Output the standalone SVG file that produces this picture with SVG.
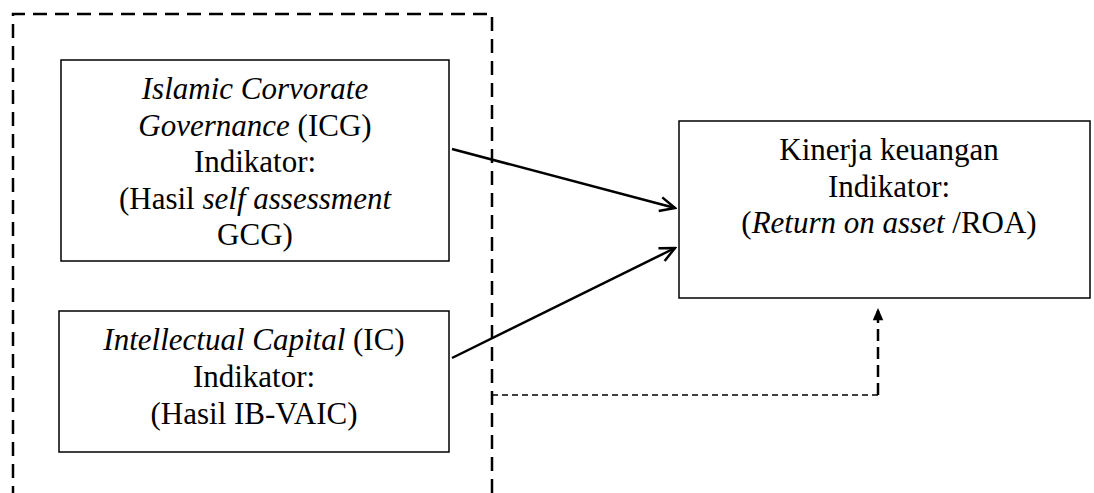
<svg xmlns="http://www.w3.org/2000/svg" width="1094" height="493" viewBox="0 0 1094 493">
<style>
  .box { fill: #fff; stroke: #000; stroke-width: 1.5; }
  .t { font-family: 'Liberation Serif', 'DejaVu Serif', serif; font-size: 31px; fill: #000; text-anchor: middle; }
  .i { font-style: italic; }
  .arrow { fill: none; stroke: #000; stroke-width: 2.5; }
  .frame { fill: none; stroke: #000; stroke-width: 2.5; stroke-dasharray: 14 8; }
</style>
<defs>
  <marker id="open" viewBox="0 0 20 20" refX="18" refY="10" markerWidth="20" markerHeight="20" markerUnits="userSpaceOnUse" orient="auto">
    <path d="M3,3 L18,10 L3,17" fill="none" stroke="#000" stroke-width="2.5"/>
  </marker>
  <marker id="solid" viewBox="0 0 14 16" refX="14" refY="7" markerWidth="16" markerHeight="14" markerUnits="userSpaceOnUse" orient="auto">
    <path d="M0,1 L14,7 L0,13 Z" fill="#000"/>
  </marker>
</defs>
<g id="group-frame">
  <path class="frame" d="M13,500 L13,14 L492,14 L492,500"/>
</g>
<g id="node-icg">
  <rect class="box" x="61" y="60" width="388" height="201"/>
  <text class="t" x="255" y="99"><tspan class="i">Islamic Corvorate</tspan></text>
  <text class="t" x="255" y="136"><tspan class="i">Governance</tspan> (ICG)</text>
  <text class="t" x="255" y="172">Indikator:</text>
  <text class="t" x="255" y="209">(Hasil <tspan class="i">self assessment</tspan></text>
  <text class="t" x="255" y="245">GCG)</text>
</g>
<g id="node-ic">
  <rect class="box" x="59" y="311" width="390" height="141"/>
  <text class="t" x="254" y="350"><tspan class="i">Intellectual Capital</tspan> (IC)</text>
  <text class="t" x="254" y="387">Indikator:</text>
  <text class="t" x="254" y="424">(Hasil IB-VAIC)</text>
</g>
<g id="node-kinerja">
  <rect class="box" x="679" y="121" width="411" height="177"/>
  <text class="t" x="889" y="160">Kinerja keuangan</text>
  <text class="t" x="889" y="197">Indikator:</text>
  <text class="t" x="889" y="233">(<tspan class="i">Return on asset </tspan>/ROA)</text>
</g>
<g id="connectors">
  <line class="arrow" x1="452" y1="149" x2="675" y2="208" marker-end="url(#open)"/>
  <line class="arrow" x1="452" y1="358" x2="675" y2="248" marker-end="url(#open)"/>
  <path d="M492,395 L878,395" fill="none" stroke="#000" stroke-width="1.5" stroke-dasharray="6 4"/>
  <path d="M878,395 L878,308" fill="none" stroke="#000" stroke-width="2.5" stroke-dasharray="12 6" marker-end="url(#solid)"/>
</g>
</svg>
